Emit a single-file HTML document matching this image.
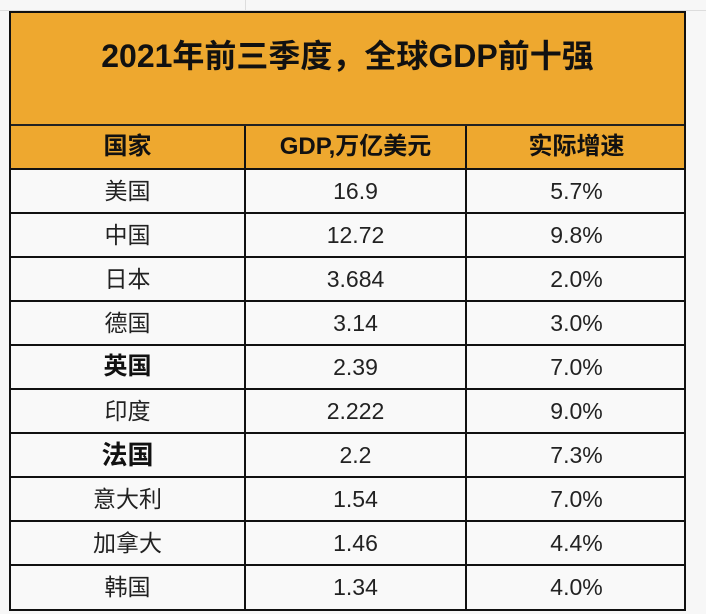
<!DOCTYPE html>
<html><head><meta charset="utf-8"><style>
body{margin:0;width:706px;height:614px;background:#f7f7f7;position:relative;overflow:hidden;font-family:"Liberation Sans","Noto Sans CJK SC",sans-serif;}
.tbl{position:absolute;left:9px;top:11px;width:677px;height:600px;border:2px solid #111;box-sizing:border-box;background:#f9f9f9;}
.title{position:absolute;left:0;top:0;width:100%;height:113px;background:#eea82f;border-bottom:2px solid #222;box-sizing:border-box;}
.title div{position:absolute;left:0;width:100%;top:18px;text-align:center;font-size:32px;font-weight:bold;color:#111;}
.row{position:absolute;left:0;width:100%;height:44px;border-bottom:2px solid #111;box-sizing:border-box;}
.hdr{background:#eea82f;}
.c{position:absolute;top:0;height:42px;line-height:42px;text-align:center;font-size:23px;color:#222;}
.c1{left:0;width:233px;border-right:2px solid #111;}
.c2{left:235px;width:219px;border-right:2px solid #111;}
.c3{left:456px;width:219px;}
.hdr .c{font-weight:bold;font-size:24px;color:#111;}
.b{font-weight:bold;font-size:24px;color:#111;}
.gl{position:absolute;background:#ddd;}
.vl{position:absolute;top:113px;width:2px;height:485px;background:#111;}
</style></head><body>
<div class="gl" style="left:0;top:10px;width:706px;height:1px"></div>
<div class="gl" style="left:245px;top:0;width:1px;height:10px"></div>
<div class="tbl">
<div class="title"><div>2021年前三季度，全球GDP前十强</div></div>
<div class="row hdr" style="top:113px"><div class="c c1">国家</div><div class="c c2">GDP,万亿美元</div><div class="c c3">实际增速</div></div>
<div class="row" style="top:157px"><div class="c c1">美国</div><div class="c c2">16.9</div><div class="c c3">5.7%</div></div>
<div class="row" style="top:201px"><div class="c c1">中国</div><div class="c c2">12.72</div><div class="c c3">9.8%</div></div>
<div class="row" style="top:245px"><div class="c c1">日本</div><div class="c c2">3.684</div><div class="c c3">2.0%</div></div>
<div class="row" style="top:289px"><div class="c c1">德国</div><div class="c c2">3.14</div><div class="c c3">3.0%</div></div>
<div class="row" style="top:333px"><div class="c c1 b">英国</div><div class="c c2">2.39</div><div class="c c3">7.0%</div></div>
<div class="row" style="top:377px"><div class="c c1">印度</div><div class="c c2">2.222</div><div class="c c3">9.0%</div></div>
<div class="row" style="top:421px"><div class="c c1 b" style="font-size:26px">法国</div><div class="c c2">2.2</div><div class="c c3">7.3%</div></div>
<div class="row" style="top:465px"><div class="c c1">意大利</div><div class="c c2">1.54</div><div class="c c3">7.0%</div></div>
<div class="row" style="top:509px"><div class="c c1">加拿大</div><div class="c c2">1.46</div><div class="c c3">4.4%</div></div>
<div class="row" style="top:553px;border-bottom:none"><div class="c c1">韩国</div><div class="c c2">1.34</div><div class="c c3">4.0%</div></div>
<div class="vl" style="left:233px"></div>
<div class="vl" style="left:454px"></div>
</div>
</body></html>
